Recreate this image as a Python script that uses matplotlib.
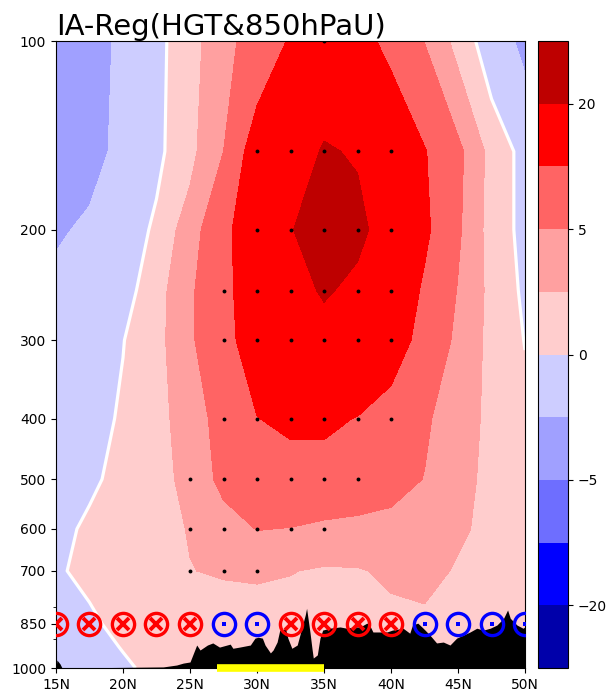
import numpy as np
import matplotlib
matplotlib.use("Agg")
import matplotlib.pyplot as plt

# grid
lats = [15, 17.5, 20, 22.5, 25, 27.5, 30, 32.5, 35, 37.5, 40, 42.5, 45, 47.5, 50]
levs = [100, 150, 200, 250, 300, 400, 500, 600, 700, 850, 925, 1000]

# regression of HGT onto 850hPa U (rows = levels, cols = lats)
hgt = [
    [-3.5, -2.8, -1.6, -0.4, 0.9, 4.0, 6.5, 10.5, 16.0, 12.0, 8.5, 4.9, 1.0, -0.9, -2.5],
    [-3.0, -2.5, -1.6, -0.4, 1.2, 5.0, 13.0, 17.0, 20.5, 19.5, 15.0, 10.3, 5.8, 1.0, -0.5],
    [-2.2, -1.75, -1.0, 0.3, 3.2, 8.6, 14.0, 19.6, 24.0, 21.5, 17.0, 11.0, 5.5, 0.8, -0.4],
    [-1.6, -1.2, -0.6, 0.9, 4.4, 8.5, 13.5, 17.5, 20.7, 18.5, 14.5, 9.2, 4.8, 1.2, -0.3],
    [-1.4, -0.9, -0.05, 1.1, 4.4, 8.5, 12.5, 15.5, 17.5, 16.0, 13.0, 8.0, 4.2, 1.2, -0.05],
    [-1.2, -0.6, 0.2, 1.2, 3.2, 6.5, 9.9, 11.0, 11.0, 9.8, 7.5, 5.5, 3.2, 1.4, 0.4],
    [-0.8, -0.3, 0.5, 1.3, 2.6, 6.0, 7.3, 7.9, 7.9, 7.2, 6.3, 4.9, 3.0, 1.2, 0.8],
    [-0.5, 0.3, 0.9, 1.4, 2.1, 3.5, 5.1, 4.9, 4.3, 4.1, 3.9, 3.4, 2.3, 1.5, 1.0],
    [-0.2, 0.4, 0.8, 1.2, 1.95, 2.2, 2.3, 2.1, 1.7, 1.8, 2.4, 2.6, 1.8, 1.4, 1.1],
    [-0.9, -0.3, 0.5, 0.9, 1.0, 0.9, 1.0, 0.9, 1.1, 1.3, 1.4, 1.6, 1.3, 1.1, 0.9],
    [-1.2, -0.7, 0.1, 0.7, 0.9, 0.8, 0.9, 0.8, 1.0, 1.2, 1.3, 1.4, 1.2, 1.0, 0.8],
    [-1.4, -1.0, -0.3, 0.5, 0.8, 0.7, 0.8, 0.7, 0.9, 1.1, 1.2, 1.3, 1.1, 0.9, 0.7],
]

# significant points (level -> lats)
sig = {
    100: [35],
    150: [30, 32.5, 35, 37.5, 40],
    200: [30, 32.5, 35, 37.5, 40],
    250: [27.5, 30, 32.5, 35, 37.5, 40],
    300: [27.5, 30, 32.5, 35, 37.5, 40],
    400: [27.5, 30, 32.5, 35, 37.5, 40],
    500: [25, 27.5, 30, 32.5, 35, 37.5],
    600: [25, 27.5, 30, 32.5, 35],
    700: [25, 27.5, 30],
}

# 850hPa wind direction markers: x = into page, o = out of page
u850_lats = lats
u850_dir = ["x", "x", "x", "x", "x", "o", "o", "x", "x", "x", "x", "o", "o", "o", "o"]

# topography as surface pressure
topo_lat = [15.0, 15.07, 15.3, 15.45, 23.0, 24.0, 24.5, 25.0, 25.5, 25.75, 26.3, 26.7,
            27.2, 28.0, 28.2, 28.7, 29.5, 29.85, 30.1, 30.4, 30.6, 31.0, 31.2, 31.5,
            31.7, 31.9, 32.1, 32.3, 32.6, 33.0, 33.2, 33.6, 33.7, 33.95, 34.1, 34.2,
            34.5, 34.7, 34.9, 35.4, 36.2, 36.7, 37.2, 37.7, 38.2, 38.4, 38.65, 39.7,
            40.1, 40.9, 41.4, 41.6, 42.0, 42.4, 42.9, 43.4, 43.9, 44.4, 44.9, 45.4,
            45.9, 46.4, 46.9, 47.4, 47.9, 48.4, 48.7, 48.9, 49.4, 49.85, 50.0]
topo_p = [1000, 971, 985, 1000, 996, 989, 982, 978, 919, 936, 919, 912,
          926, 916, 930, 926, 919, 896, 893, 896, 919, 946, 936, 909,
          870, 876, 860, 896, 930, 919, 886, 823, 803, 876, 930, 964,
          953, 896, 870, 864, 860, 864, 860, 860, 848, 854, 876, 876,
          870, 864, 880, 854, 848, 864, 886, 912, 909, 919, 896, 886,
          876, 864, 870, 864, 854, 833, 808, 833, 854, 864, 860]

# region bar
region = [27, 35]

clevs = [-30, -20, -10, -5, -2, 0, 2, 5, 10, 20, 30]
cols = ["#0000AA", "#0000FF", "#6E6EFF", "#A0A0FF", "#CDCDFF",
        "#FFCDCD", "#FFA0A0", "#FF6464", "#FF0000", "#BE0000"]

fig = plt.figure(figsize=(6.08, 6.95), dpi=100)
ax = fig.add_axes([0.0921, 0.0388, 0.7714, 0.9022])
cax = fig.add_axes([0.8849, 0.0388, 0.0493, 0.9022])

cf = ax.contourf(lats, levs, np.array(hgt), levels=clevs, colors=cols)
ax.contour(lats, levs, np.array(hgt), levels=[0], colors="white", linewidths=2.3)

for lev, la in sig.items():
    ax.plot(la, [lev] * len(la), "o", color="k", ms=2.8, mew=0, zorder=3)

ax.fill_between(topo_lat, topo_p, 1100, color="k", lw=0, zorder=4)

for la, d in zip(u850_lats, u850_dir):
    if d == "x":
        ax.plot(la, 850, "o", ms=16, mfc="none", mec="red", mew=2.4, zorder=6)
        ax.plot(la, 850, "x", ms=8.5, mec="red", mew=2.8, zorder=6)
    else:
        ax.plot(la, 850, "o", ms=16, mfc="none", mec="blue", mew=2.4, zorder=6)
        ax.plot(la, 850, "s", ms=3.2, mfc="blue", mec="blue", mew=0, zorder=6)

ax.plot(region, [1000, 1000], color="yellow", lw=5.5, solid_capstyle="butt",
        zorder=7, clip_on=False)

ax.set_yscale("log")
ax.set_ylim(1000, 100)
ax.set_xlim(15, 50)
yt = [100, 200, 300, 400, 500, 600, 700, 850, 1000]
ax.set_yticks(yt)
ax.set_yticklabels([str(v) for v in yt])
xt = [15, 20, 25, 30, 35, 40, 45, 50]
ax.set_xticks(xt)
ax.set_xticklabels([f"{v}N" for v in xt])
ax.tick_params(labelsize=10)
ax.set_title("IA-Reg(HGT&850hPaU)", loc="left", fontsize=21, pad=3)

cb = fig.colorbar(cf, cax=cax, ticks=[-20, -5, 0, 5, 20])
cb.ax.tick_params(labelsize=10)

fig.savefig("out.png", dpi=100)
